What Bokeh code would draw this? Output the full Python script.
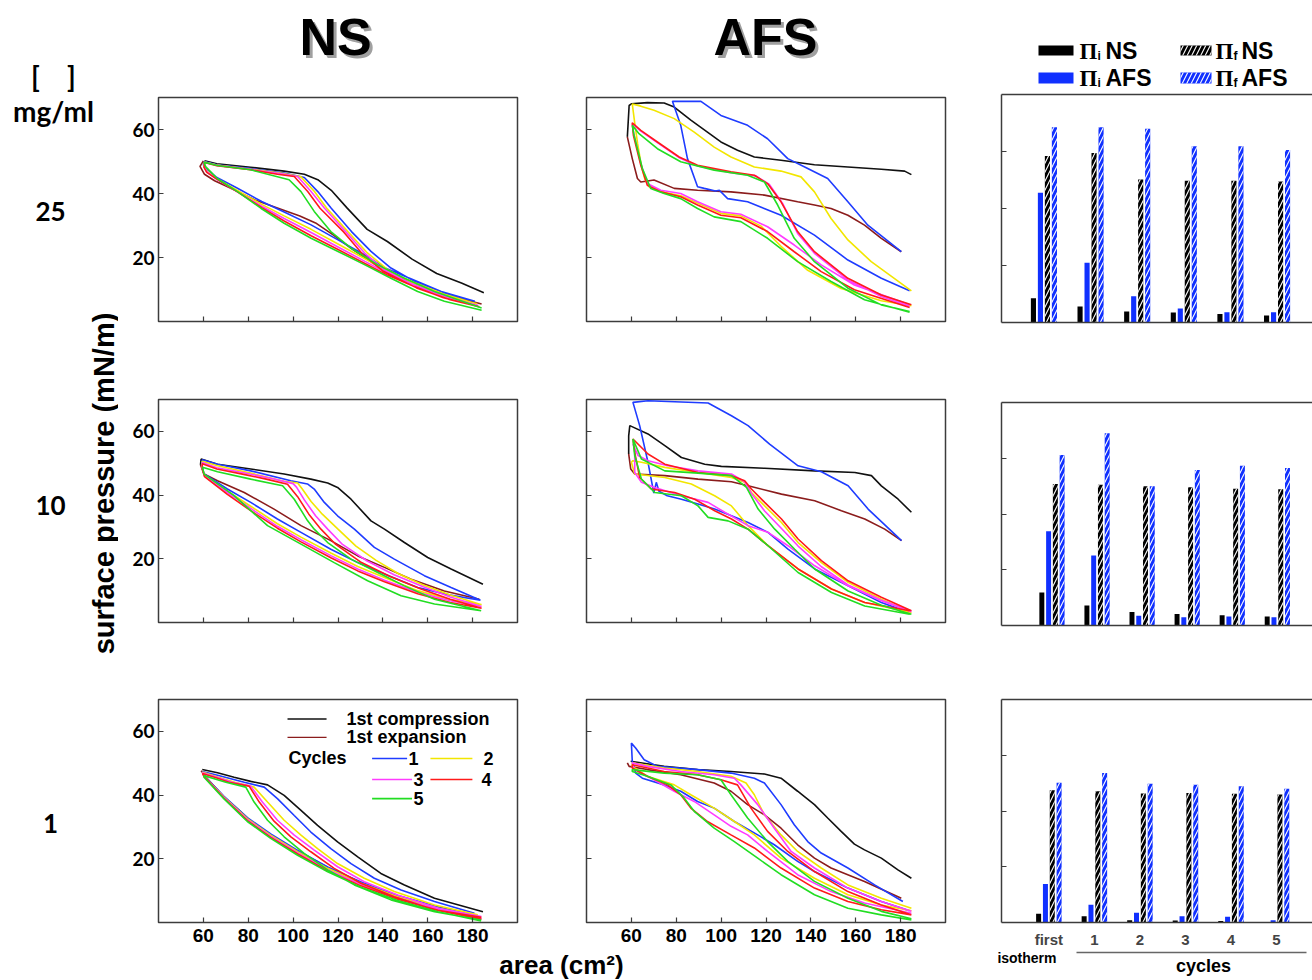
import math
from bokeh.plotting import figure
from bokeh.layouts import row, column
from bokeh.models import Range1d, LinearAxis, FixedTicker, ColumnDataSource, CustomLabelingPolicy
from bokeh.transform import dodge
from bokeh.core.properties import value
from bokeh.embed import file_html
from bokeh.resources import INLINE

# ---------------- data ----------------
AREA_TICKS = [60, 80, 100, 120, 140, 160, 180]
PRESSURE_TICKS = [20, 40, 60]
BAR_TICKS = [20, 40, 60]
GROUPS = [0, 1, 2, 3, 4, 5]
GROUP_LABELS = ["first isotherm", "1", "2", "3", "4", "5"]
CONCENTRATIONS = ["25", "10", "1"]
CURVE_LABELS = ["1st compression", "1st expansion", "1", "2", "3", "4", "5"]

# NS, 25 mg/ml  (area cm2, surface pressure mN/m)
NS25_COMP = [(185,9),(175,12),(164,15),(153,19.5),(142,25),(133,28.8),(124,35.5),(117,41),(111,44.3),(105,46),(96,47),(81,48.2),(66,49.3),(60.5,50.2)]
NS25_EXP = [(60,50.2),(58.5,48.5),(60.5,46),(65,44),(72,41.7),(83,38),(93,35.5),(103,33),(110,30.8),(118,27),(126,22.8),(135,18.5),(148,13.5),(163,9.3),(184,5.5)]
NS25_C1 = [(181,6.3),(170,8.3),(155.5,12),(143.6,16.7),(134.7,21.9),(126,28.1),(117,35.4),(111,40.6),(105,45),(96,46.4),(81,47.8),(66,49),(60.5,50),(60,49),(61,47.9),(66,45),(75,41.7),(86,37.5),(96,34.2),(108,30.2),(120,25.5),(132,20.8),(141,16.7),(153,13.2),(166,9.4),(181,6.3)]
NS25_C2 = [(182,5.5),(170,7.6),(155,11.3),(142,16.3),(133,21.5),(124.5,28),(115,35.4),(109.5,40.6),(103.5,45.2),(95,46.3),(81,47.6),(66,48.9),(60.5,49.8),(60.2,48.5),(61.5,47),(66,44.6),(75,41),(86,36.6),(96,33),(108,28.8),(120,24.2),(132,19.6),(142,15.8),(154,12.2),(167,8.6),(182,5.5)]
NS25_C3 = [(182.5,5),(170,7.2),(155,10.9),(141,16),(132,21.3),(123.5,28),(114,35.4),(108,40.6),(102,45.3),(94,46.2),(81,47.5),(66,48.8),(60.5,49.8),(60.3,48.3),(61.5,46.8),(66,44.4),(75,40.6),(86,36),(96,32.2),(108,27.8),(120,23.3),(132,18.8),(142,15.1),(154,11.5),(167,8),(182.5,5)]
NS25_C4 = [(183,4.6),(170,6.8),(155,10.5),(140,15.8),(131,21),(122.5,28),(112,35.4),(106.5,40.6),(100.5,45.3),(93,46),(81,47.4),(66,48.7),(60.5,49.7),(60.3,48.2),(61.5,46.6),(66,44.5),(75,40.6),(86,35.6),(96,31.4),(108,26.8),(120,22.5),(132,18.1),(142,14.5),(154,10.9),(167,7.4),(183,4.6)]
NS25_C5 = [(184,4.2),(163,9.4),(149.6,13.5),(137.7,17.7),(125.8,22.9),(116.8,28.1),(109.4,34.4),(103.5,40.6),(98.2,44.3),(81,47.4),(66.3,48.75),(60.3,49.8),(61,48.4),(66.3,44.6),(75.2,40.6),(85.6,35.4),(96,30.7),(108,26),(120,21.9),(132,17.7),(143.6,13.5),(155.5,9.4),(167.4,6.3),(184,3.5)]

# NS, 10 mg/ml
NS10_COMP = [(184.6,12),(170.4,16.8),(160,20.4),(149.6,25.1),(140.7,29.3),(134.7,31.9),(125.8,38.7),(119.8,42.4),(115.4,43.8),(107.9,45),(96,46.6),(81.1,48.2),(66.3,49.7),(59,51.3),(58.7,49.5)]
NS10_EXP = [(58.7,49.5),(60.3,46.6),(66.3,44.5),(78.2,40.8),(91.5,35.6),(103.5,30.4),(116.8,25.7),(128.8,20.9),(140.7,17.3),(152.6,13.6),(167.4,9.9),(183,7.3)]
NS10_C1 = [(183.5,7),(170.4,11),(158.5,14.7),(145.1,19.9),(136.2,23.6),(127.3,29.3),(119.8,33.5),(113.9,37.7),(109.4,41.9),(106.4,43.5),(99,44.5),(81.1,47.6),(66.3,49.7),(59.6,51.1),(59.3,49.2),(60.3,46.6),(70.7,41.9),(81.1,37.7),(93,32.5),(103.5,28.3),(116.8,23),(128.8,18.8),(140.7,15.2),(155.5,11),(170,8.6),(183.5,7)]
NS10_C2 = [(184,5.6),(170,8.6),(158,11.8),(147,15.3),(137,19.5),(128,24),(120,29.3),(113,34),(108,38),(104,42),(102,43.8),(96,44.3),(81,46.9),(66.3,49.2),(59.5,50.6),(59.3,48.8),(60.5,46.3),(70.7,41.2),(81.1,36.5),(93,31),(103.5,26.8),(116.8,21.8),(128.8,17.6),(140.7,14.1),(155.5,10),(170,7.2),(184,5.6)]
NS10_C3 = [(184,5),(170,8),(158,11.2),(145,15),(133,19.3),(122,24.5),(115.4,29.3),(110,33.5),(105,38.5),(101.5,42.5),(100,43.6),(90,45.3),(78,47),(66,48.6),(59.5,50.2),(59.5,48.5),(60.5,46),(70.7,40.8),(81.1,35.8),(93,30.2),(103.5,26),(116.8,21),(128.8,16.8),(140.7,13.3),(155.5,9.5),(170,6.8),(184,5)]
NS10_C4 = [(184,4.5),(170,7.3),(157,10.5),(143,14.5),(130,19),(119,24.5),(112.4,29.3),(107,34),(102,39.5),(97.5,43.4),(88,45),(78,46.5),(66,48.2),(59.5,49.8),(59.5,48.2),(60.5,45.8),(70.7,40.2),(81.1,35.1),(93,29.6),(103.5,25.3),(116.8,20.3),(128.8,16.2),(140.7,12.8),(155.5,9),(170,6.3),(184,4.5)]
NS10_C5 = [(183.8,3.7),(163,7.3),(149.6,11.5),(137.7,15.7),(125.8,19.9),(115.4,25.1),(109.4,29.3),(106.4,32),(100.5,38.7),(95.3,42.9),(81.1,45),(66.3,47.3),(59.6,48.7),(60.3,46.6),(73.7,39.8),(88.6,30.4),(103.5,24.6),(118.3,18.8),(133.2,13.1),(148.1,8.4),(163,5.8),(183.8,3.7)]

# NS, 1 mg/ml
NS1_COMP = [(184.6,3.4),(163,7.6),(149.6,11.8),(139.1,15.4),(128.8,20.6),(119.8,25.3),(110.9,30.5),(103.5,35.2),(96,39.9),(88.6,43.2),(81.1,44.3),(73.7,45.6),(66.3,47),(59.5,48)]
NS1_EXP = [(59,47.6),(61.8,45.1),(69.2,39.4),(76.7,34.7),(84.1,29.8),(93,25.6),(103.5,22),(115.4,17.3),(128.8,13),(143.6,8.8),(160,4.7),(183.8,1)]
NS1_C1 = [(180.8,2.9),(163,6.6),(148.1,10.2),(136.2,13.9),(125.8,18.5),(116.8,23.2),(107.9,28.4),(100.5,33.6),(93,38.9),(87.1,42.5),(78.2,44),(66.3,46.2),(59.6,47.4),(60.3,46.1),(69.2,39.6),(79.6,32.9),(90,27.8),(102,22.6),(115.4,17.4),(130.2,12.7),(146.6,8.5),(164.6,4.9),(180.8,2.2)]
NS1_C2 = [(182.3,2.4),(163,5.5),(145.1,9.7),(131.7,13.9),(119.8,18.5),(110.9,23.2),(103.5,27.4),(96,32.1),(88.6,37.8),(82.6,42.5),(74,44),(66.3,45.7),(59.6,47.2),(60.3,46),(69.2,39.4),(79.6,32.6),(90,27.4),(102,22.2),(115.4,17),(130.2,12.3),(146.6,8.1),(164.6,4.5),(182.3,1.8)]
NS1_C3 = [(183.9,1.9),(164.6,4.5),(146.6,8.6),(131.7,12.8),(119.8,17.5),(109.4,22.7),(100.5,27.4),(93,32.1),(86.3,37.8),(81.1,42.8),(73,44),(66.3,45.5),(59.6,47),(60.3,45.9),(69.2,39.2),(79.6,32.3),(90,27),(102,21.8),(115.4,16.6),(130.2,11.9),(146.6,7.7),(164.6,4.1),(183.9,1.3)]
NS1_C4 = [(183.9,1.6),(163,4),(145.1,8.1),(130.2,12.3),(118.3,17),(107.9,22.2),(99,26.9),(91.5,31.8),(84.9,37.8),(80.4,42.8),(72,43.9),(66.3,45.3),(59.6,46.8),(60.3,45.8),(69.2,39),(79.6,32),(90,26.7),(102,21.5),(115.4,16.2),(130.2,11.5),(146.6,7.3),(164.6,3.8),(183.9,1)]
NS1_C5 = [(183.8,0.8),(163,3.4),(143.6,7.1),(127.3,11.8),(115.4,16.5),(104.9,21.7),(96,26.9),(88.6,32.1),(82.6,37.8),(78.9,42.5),(70,44),(66.3,44.8),(60.3,46.1),(60.3,45.6),(69.2,38.8),(79.6,31.7),(90,26.4),(102,21.1),(115.4,15.9),(130.2,11.1),(146.6,6.9),(164.6,3.4),(183.8,0.5)]

# AFS, 25 mg/ml
AFS25_COMP = [(184.8,45.9),(181.8,47),(171.4,47.6),(156.5,48.3),(141.6,49),(126.7,50.4),(114.8,51.4),(107.3,53.5),(99.9,56.1),(93.9,59.2),(86.5,62.9),(79.1,67),(74.6,68.3),(67.1,68.4),(60,68),(59,67.5),(58.5,61.3),(58.2,57.7)]
AFS25_EXP = [(58.2,57.7),(60.4,50.9),(62.7,44.7),(64.2,43.6),(70.1,44.2),(79.1,41.6),(89.5,41),(104.4,40.5),(119.3,39.5),(134.1,37.4),(141.6,36.4),(149,35.3),(156.5,33.2),(163.9,30.1),(171.4,26),(180.3,21.8)]
AFS25_C1 = [(184,9.6),(171.4,13.5),(156.5,19.2),(141.6,27),(126.7,33.2),(111.8,37.4),(102.9,38.4),(99.2,41),(97.5,40.8),(92.5,41.6),(89.5,42.1),(85,50.9),(82,61.3),(78.3,68.8),(91,68.8),(99.9,64.4),(111.8,61.3),(120.7,57.1),(129.7,50.9),(138.6,47.8),(147.5,44.7),(156.5,37.4),(165.4,30.1),(180.3,21.8)]
AFS25_C2 = [(184.8,9.6),(166.9,18.7),(156.5,25.5),(149,32.2),(141.6,40.5),(135.6,45.2),(126.7,47),(114.8,48.3),(104.4,51.4),(96.9,54.5),(88,59.2),(79.1,63.4),(70.1,66),(64.2,67.3),(60.4,68),(61.5,62),(62.8,55.5),(64.5,48.5),(66,44.5),(67.9,42.1),(75,40.3),(82,39.3),(89.5,37),(99.9,33.8),(108.8,33),(117.8,29.8),(126.7,23.5),(138.6,16),(153.5,10.3),(171.4,6.5),(184.8,4.9)]
AFS25_C3 = [(184,4.7),(171.4,7.8),(156.5,13),(141.6,21.3),(134.1,27.5),(127.4,36.9),(121.5,42.8),(115.5,45.5),(104.4,46.5),(89.5,48.6),(81.3,51.2),(71.6,55.9),(64.2,59.5),(60.4,61.8),(61.2,58.2),(64.2,49.4),(67.1,43.1),(73.1,41),(82,40),(89.5,37.4),(99.9,34.3),(108.8,33.5),(120.7,29.6),(132.6,23.9),(144.6,17.7),(159.4,11.4),(184,5.2)]
AFS25_C4 = [(184.8,5.2),(171.4,8.3),(156.5,13.5),(141.6,21.8),(134.1,28.1),(126.7,37.4),(120.7,43.1),(114.8,45.7),(104.4,46.8),(89.5,48.8),(81.3,51.4),(71.6,56.1),(64.2,59.7),(60.4,62.1),(60.9,58.2),(64.2,48.8),(67.1,42.6),(73.1,40.5),(82,39),(89.5,36.4),(99.9,33.2),(108.8,32.4),(120.7,28.1),(132.6,21.8),(144.6,15.6),(159.4,9.9),(184,4.4)]
AFS25_C5 = [(184,3.1),(171.4,5.2),(156.5,10.4),(141.6,18.7),(132.6,26),(125.2,36.4),(119.3,43.6),(111.8,45.7),(96.9,47.3),(82,49.9),(71.6,54),(63.4,58.7),(60.4,61.3),(61.2,58.2),(64.9,47.8),(68.6,41.6),(74.6,40),(82,38.4),(89.5,35.3),(96.9,32.7),(108.8,31.2),(120.7,26),(134.1,18.7),(149,12.5),(163.9,6.8),(184,2.9)]

# AFS, 10 mg/ml
AFS10_COMP = [(184.8,34.6),(178.9,38.7),(171.4,42.9),(167,46.1),(159.6,47.1),(141.7,47.6),(119.4,48.4),(100.1,49),(92.7,49.7),(82.3,51.8),(74.9,55.5),(67.4,59.2),(59.3,61.8),(58.8,58.6),(58.8,52.9)]
AFS10_EXP = [(58.8,52.9),(59.7,48.2),(61.5,46.6),(74.9,46.1),(89.7,45),(104.6,44.2),(112,42.9),(126.9,40.3),(141.7,38.2),(153.6,35.1),(164,32.5),(172.9,29.3),(180.4,25.7)]
AFS10_C1 = [(184,3.1),(171.4,6.3),(156.6,11.5),(141.7,16.8),(129.8,23),(120.9,28.3),(112,31.4),(104.6,33.5),(97.1,35.6),(89.7,37.2),(82.3,38.7),(76,39.8),(72.3,41.2),(71.1,44),(70,40.6),(67.4,50.3),(63.7,61.8),(60.7,69.1),(67.4,69.6),(94.2,68.9),(104.6,64.9),(112,61.8),(121.6,56),(134.3,49.2),(144.7,47.3),(156.6,42.9),(165.5,35.6),(180.4,25.7)]
AFS10_C2 = [(184.8,3.1),(171.4,7.3),(156.6,12.6),(144.7,18.8),(134.3,25.1),(126.9,31.4),(119.4,36.6),(113.5,40.8),(110.5,44),(104.6,45.5),(89.7,47.1),(74.9,48.7),(64.5,50.3),(60.7,50.8),(60,50.3),(61.5,46.6),(74.9,45.5),(86.7,43.5),(97.1,39.8),(104.6,36.6),(112,30.4),(120.9,24.1),(134.3,16.8),(149.2,10.5),(164,6.3),(184.8,3.1)]
AFS10_C3 = [(184.8,3.4),(171.4,6.8),(156.6,11.5),(141.7,17.8),(129.8,24.1),(120.9,28.3),(112,30.4),(101.6,34.6),(94.2,37.7),(82.3,39.8),(70.4,42.4),(64.5,44),(61.5,47.1),(61.5,54.5),(60.7,56),(63,52.4),(67.4,50.8),(76.3,49.2),(89.7,47.6),(104.6,46.6),(110.5,44.2),(113.5,40.5),(119.4,35),(126.9,29.5),(134.3,24),(144.7,17.5),(156.6,11.8),(171.4,7),(184.8,3.6)]
AFS10_C4 = [(184.8,3.7),(171.4,7.9),(156.6,13.1),(144.7,19.4),(134.3,26.2),(126.9,32.5),(119.4,37.7),(113.5,41.9),(110.5,44.5),(104.6,46.1),(89.7,47.1),(74.9,49.7),(67.4,52.9),(60.7,57.6),(61.5,53.4),(63.7,45.5),(68.9,41.9),(79.3,40.8),(88.2,38.7),(97.1,35.1),(104.6,32.5),(112,29.3),(120.9,24.1),(134.3,16.8),(149.2,10.5),(164,6.3),(184,3.7)]
AFS10_C5 = [(184.8,2.6),(171.4,5.4),(156.6,9.9),(141.7,16.8),(132.8,23),(123.9,29.3),(116.5,35.6),(111.3,42.4),(104.6,46.1),(89.7,46.9),(74.9,47.6),(64.5,51.3),(60.7,57.6),(61.5,52.4),(64.5,45),(70.4,40.8),(82.3,39.8),(89.7,36.6),(94.2,33),(103.1,31.9),(112,29.3),(120.9,24.1),(134.3,15.7),(149.2,9.4),(164,5.2),(184,2.6)]

# AFS, 1 mg/ml
AFS1_COMP = [(184.8,13.9),(178.8,16.5),(171.4,20.2),(163.9,22.8),(159.4,24.6),(153.5,28.6),(147.5,32.8),(141.6,37),(134.1,41.2),(126.7,45.3),(119.3,46.6),(104.4,47.4),(89.5,48),(74.6,49),(59.7,50.6)]
AFS1_EXP = [(58.2,50.1),(59,49),(67.1,48),(82,46.4),(96.9,43.8),(104.4,41.2),(111.8,37),(119.3,33.8),(126.7,29.6),(134.1,24.4),(141.6,20.2),(149,17.1),(163.9,12.9),(180.3,7.6)]
AFS1_C1 = [(184,3.7),(171.4,6.6),(156.5,10.8),(141.6,16),(134.1,19.2),(123.7,24.4),(116.3,27.5),(105.9,31.7),(96.9,35.9),(89.5,38),(82,41.2),(74.6,43.2),(64.9,45.3),(61.9,46.9),(60.4,50.6),(60,56.3),(61.9,54.8),(65.7,51.1),(71.6,49),(89.5,48),(104.4,46.9),(114.8,45.3),(119.3,43.8),(126.7,37),(132.6,30.7),(138.6,25.4),(144.6,21.8),(156.5,17.1),(168.4,11.8),(181,6.6)]
AFS1_C2 = [(184.8,4.5),(171.4,7.6),(156.5,11.8),(144.6,17.1),(134.1,22.3),(126.7,27.5),(119.3,33.8),(114.8,40.1),(111.1,43.8),(104.4,45.9),(89.5,47.4),(74.6,48.5),(60.4,50.1),(60.4,49),(67.1,45.9),(79.1,43.2),(86.5,40.1),(96.9,35.9),(105.9,31.7),(114.8,27.5),(126.7,20.2),(141.6,13.9),(156.5,8.7),(171.4,5.5),(184.8,3.7)]
AFS1_C3 = [(184.8,3.5),(171.4,6.6),(156.5,10.8),(141.6,17.1),(131.2,22.3),(123.7,29.6),(116.3,37),(108.8,43.2),(105.9,45.3),(96.9,46.4),(82,47.4),(67.1,49),(60.4,50.1),(61.2,48),(70.1,44.8),(79.1,41.2),(88,38),(96.9,33.8),(104.4,30.2),(111.8,27.5),(120.7,22.3),(134.1,15),(149,9.7),(163.9,6.1),(184.8,2.9)]
AFS1_C4 = [(184.8,2.4),(171.4,5.5),(156.5,9.7),(141.6,16),(129.7,22.3),(120.7,28.6),(113.3,35.9),(107.3,43.2),(99.9,44.8),(89.5,46.4),(74.6,47.4),(60.4,49.5),(60.4,48.5),(67.1,45.9),(76.1,43.2),(82,40.1),(86.5,35.9),(93.9,31.7),(104.4,27.5),(114.8,23.4),(126.7,17.1),(141.6,10.8),(156.5,6.6),(171.4,4),(184.8,2.4)]
AFS1_C5 = [(184.8,1.2),(171.4,3.5),(156.5,7.6),(141.6,12.9),(129.7,19.2),(120.7,25.4),(111.8,32.8),(104.4,40.1),(99.9,44.8),(89.5,46.4),(74.6,46.9),(60.4,48),(60.4,47.4),(67.1,45.9),(77.6,43.2),(83.5,39.1),(88,34.9),(96.9,29.6),(105.9,25.4),(116.3,20.2),(126.7,15),(141.6,8.7),(156.5,4.5),(171.4,2.4),(184.8,0.8)]

# bar values (mN/m): initial (Pi_i) and final (Pi_f) surface pressures
PI_I_NS_25 = [8.5, 5.6, 3.9, 3.5, 3.0, 2.5]
PI_I_AFS_25 = [45.5, 21.0, 9.2, 4.9, 3.6, 3.6]
PI_F_NS_25 = [58.4, 59.5, 50.2, 49.7, 49.7, 49.5]
PI_F_AFS_25 = [68.5, 68.5, 68.0, 61.8, 61.8, 60.5]

PI_I_NS_10 = [11.8, 7.2, 4.8, 4.1, 3.7, 3.2]
PI_I_AFS_10 = [33.8, 25.1, 3.5, 3.0, 3.2, 3.0]
PI_F_NS_10 = [50.8, 50.5, 50.0, 49.6, 49.1, 48.9]
PI_F_AFS_10 = [61.2, 69.0, 50.0, 55.8, 57.3, 56.5]

PI_I_NS_1 = [3.1, 2.2, 0.8, 0.7, 0.5, 0.2]
PI_I_AFS_1 = [13.8, 6.4, 3.5, 2.2, 2.1, 0.8]
PI_F_NS_1 = [47.4, 47.1, 46.3, 46.5, 46.2, 45.9]
PI_F_AFS_1 = [50.1, 53.6, 49.8, 49.4, 48.9, 48.0]

# ---------------- styles ----------------
CURVE_COLORS = ["#111111", "#8b1c1c", "#1f3cff", "#f2e600", "#ff3cff", "#ff1a1a", "#22dd22"]
BAR_BLACK = "#000000"
BAR_BLUE = "#1030ff"
FRAME = "#3c3c3c"
SANS = "Liberation Sans"
LATO = "Lato"
NBSP = "\u00a0"
HATCH = dict(hatch_pattern="/", hatch_color="white", hatch_scale=9, hatch_weight=1.1)


def hide_labels(ax):
    ax.major_label_policy = CustomLabelingPolicy(
        code="for (const i of indices) { indices.unset(i) }\nreturn indices")


def put(p, x, y, s, size, font=SANS, style="bold", color="black", align="center",
        baseline="middle", angle=0.0):
    p.text(x=[x], y=[y], text=[s], text_font=value(font), text_font_size=value(f"{size}px"),
           text_font_style=style, text_color=color, text_align=align,
           text_baseline=baseline, angle=angle)


def strip(width, height, x0, y0):
    return figure(width=width, height=height, x_range=Range1d(x0, x0 + width),
                  y_range=Range1d(y0 + height, y0), x_axis_type=None, y_axis_type=None,
                  output_backend="svg", toolbar_location=None, title=None,
                  min_border=0, outline_line_color=None)


def line_panel(curves, width, height, bt, bb, bl, br, xlabels, ylabels):
    p = figure(width=width, height=height, x_range=Range1d(40, 200), y_range=Range1d(0, 70),
               output_backend="svg", toolbar_location=None, title=None,
               min_border_left=bl, min_border_right=br, min_border_top=bt, min_border_bottom=bb)
    p.grid.visible = False
    p.outline_line_color = FRAME
    p.outline_line_width = 1.5
    p.xaxis.ticker = FixedTicker(ticks=AREA_TICKS)
    p.yaxis.ticker = FixedTicker(ticks=PRESSURE_TICKS)
    for ax in (p.xaxis[0], p.yaxis[0]):
        ax.axis_line_color = None
        ax.major_tick_in = 5
        ax.major_tick_out = 0
        ax.major_tick_line_color = FRAME
        ax.major_tick_line_width = 1.2
        ax.minor_tick_line_color = None
    if xlabels:
        p.xaxis.major_label_text_font = SANS
        p.xaxis.major_label_text_font_style = "bold"
        p.xaxis.major_label_text_font_size = "19px"
        p.xaxis.major_label_text_color = "black"
        p.xaxis.major_label_standoff = 6
    else:
        hide_labels(p.xaxis[0])
    if ylabels:
        p.yaxis.major_label_text_font = LATO
        p.yaxis.major_label_text_font_style = "bold"
        p.yaxis.major_label_text_font_size = "19px"
        p.yaxis.major_label_text_color = "black"
        p.yaxis.major_label_standoff = 4
    else:
        hide_labels(p.yaxis[0])
    for pts, color in zip(curves, CURVE_COLORS):
        p.line([a for a, _ in pts], [b for _, b in pts], line_color=color, line_width=1.6)
    return p


def bar_panel(series, xr, width, height, bt, bb, bl, bottom_labels):
    p = figure(width=width, height=height, x_range=Range1d(*xr), y_range=Range1d(0, 80),
               output_backend="svg", toolbar_location=None, title=None,
               min_border_left=bl, min_border_right=0, min_border_top=bt, min_border_bottom=bb)
    p.grid.visible = False
    p.outline_line_color = None
    src = ColumnDataSource(dict(g=GROUPS, a=series[0], b=series[1], c=series[2], d=series[3]))
    specs = [("a", -0.225, BAR_BLACK, False), ("b", -0.075, BAR_BLUE, False),
             ("c", 0.075, BAR_BLACK, True), ("d", 0.225, BAR_BLUE, True)]
    for col, off, color, hatched in specs:
        kw = HATCH if hatched else {}
        p.vbar(x=dodge("g", off), top=col, bottom=0, width=0.11, source=src,
               fill_color=color, line_color=None, **kw)
    yax = p.yaxis[0]
    yax.ticker = FixedTicker(ticks=BAR_TICKS)
    yax.major_tick_in = 5
    yax.major_tick_out = 0
    yax.major_tick_line_color = FRAME
    yax.minor_tick_line_color = None
    yax.axis_line_color = FRAME
    yax.axis_line_width = 1.5
    hide_labels(yax)
    xax = p.xaxis[0]
    xax.ticker = FixedTicker(ticks=GROUPS)
    xax.major_tick_line_color = None
    xax.minor_tick_line_color = None
    xax.axis_line_color = FRAME
    xax.axis_line_width = 1.5
    top = LinearAxis(ticker=FixedTicker(ticks=[]), axis_line_color=FRAME, axis_line_width=1.5,
                     major_tick_line_color=None, minor_tick_line_color=None,
                     major_label_standoff=0)
    hide_labels(top)
    p.add_layout(top, "above")
    if bottom_labels:
        xax.major_label_overrides = {g: lab.split()[0] for g, lab in zip(GROUPS, GROUP_LABELS)}
        xax.major_label_text_font = SANS
        xax.major_label_text_font_style = "bold"
        xax.major_label_text_font_size = "15px"
        xax.major_label_standoff = 2
    else:
        hide_labels(xax)
    return p


# ---------------- panels (heights chosen so the frames sit as in the reference) ----------------
ns25 = line_panel([NS25_COMP, NS25_EXP, NS25_C1, NS25_C2, NS25_C3, NS25_C4, NS25_C5], 427, 268, 5, 39, 40, 28, False, True)
ns10 = line_panel([NS10_COMP, NS10_EXP, NS10_C1, NS10_C2, NS10_C3, NS10_C4, NS10_C5], 427, 297, 39, 35, 40, 28, False, True)
ns1 = line_panel([NS1_COMP, NS1_EXP, NS1_C1, NS1_C2, NS1_C3, NS1_C4, NS1_C5], 427, 293, 42, 28, 40, 28, True, True)
afs25 = line_panel([AFS25_COMP, AFS25_EXP, AFS25_C1, AFS25_C2, AFS25_C3, AFS25_C4, AFS25_C5], 415, 268, 5, 39, 41, 15, False, False)
afs10 = line_panel([AFS10_COMP, AFS10_EXP, AFS10_C1, AFS10_C2, AFS10_C3, AFS10_C4, AFS10_C5], 415, 297, 39, 35, 41, 15, False, False)
afs1 = line_panel([AFS1_COMP, AFS1_EXP, AFS1_C1, AFS1_C2, AFS1_C3, AFS1_C4, AFS1_C5], 415, 293, 42, 28, 41, 15, True, False)

# legend of the curves, inside the NS 1 mg/ml panel
leg_rows = [(97.5, 114.9, 63.9), (97.5, 114.9, 58.1)]
for (x0, x1, y), color, lab in zip(leg_rows, CURVE_COLORS[:2], CURVE_LABELS[:2]):
    ns1.segment(x0=[x0], y0=[y], x1=[x1], y1=[y], line_color=color, line_width=1.4)
    put(ns1, 123.8, y, lab, 18, align="left")
put(ns1, 97.9, 51.5, "Cycles", 18, align="left")
cyc_pos = [(135.2, 150.8, 51.5, 151.4), (161.2, 179.9, 51.5, 184.8), (135.2, 153.0, 44.9, 153.6),
           (161.2, 179.9, 44.9, 183.9), (135.2, 153.0, 38.9, 153.6)]
for (x0, x1, y, xt), color, lab in zip(cyc_pos, CURVE_COLORS[2:], CURVE_LABELS[2:]):
    ns1.segment(x0=[x0], y0=[y], x1=[x1], y1=[y], line_color=color, line_width=1.6)
    put(ns1, xt, y, lab, 18, align="left")

bar25 = bar_panel([PI_I_NS_25, PI_I_AFS_25, PI_F_NS_25, PI_F_AFS_25], (-0.91, 5.76), 352, 268, 2, 38, 41, False)
bar10 = bar_panel([PI_I_NS_10, PI_I_AFS_10, PI_F_NS_10, PI_F_AFS_10], (-1.12, 5.78), 352, 300, 42, 35, 41, False)
bar1 = bar_panel([PI_I_NS_1, PI_I_AFS_1, PI_F_NS_1, PI_F_AFS_1], (-1.04, 5.79), 352, 290, 39, 21, 41, True)

# ---------------- strips with titles / labels (page pixel coordinates) ----------------
left = strip(118, 980, 0, 0)
put(left, 53, 75, "[" + NBSP * 4 + "]", 28, font=LATO)
put(left, 53, 110, "mg/ml", 28, font=LATO)
for conc, yy in zip(CONCENTRATIONS, [211, 505, 823]):
    put(left, 50, yy, conc, 26, font=LATO)
put(left, 103, 483, "surface pressure (mN/m)", 29, angle=math.pi / 2)

top = strip(1194, 92, 118, 0)
for txt, xc in [("NS", 335), ("AFS", 765)]:
    put(top, xc + 3, 39, txt, 52, color="#a0a0a0")
    put(top, xc, 36, txt, 52)
legend_specs = [
    (1038, 1073, 45, 55, BAR_BLACK, False, 1079, "i", "NS", 50),
    (1038, 1073, 72, 83, BAR_BLUE, False, 1079, "i", "AFS", 77),
    (1180, 1211, 45, 55, BAR_BLACK, True, 1215, "f", "NS", 50),
    (1180, 1211, 72, 83, BAR_BLUE, True, 1215, "f", "AFS", 77),
]
for l, r, t, b, color, hatched, xt, sub, name, yc in legend_specs:
    kw = HATCH if hatched else {}
    top.quad(left=[l], right=[r], top=[t], bottom=[b], fill_color=color, line_color=None, **kw)
    put(top, xt, yc + 1, "Π", 23, font="Liberation Serif", align="left")
    put(top, xt + 18, yc + 5, sub, 12, align="left")
    put(top, xt + 26, yc, name, 23, align="left")

bottom = strip(1194, 30, 118, 950)
put(bottom, 561, 964, "area (cm²)", 26)
iso = GROUP_LABELS[0].split()[1]
put(bottom, 1056, 957, iso, 14, align="right")
bottom.segment(x0=[1076], y0=[952], x1=[1306], y1=[952], line_color="#666666", line_width=1.5)
put(bottom, 1203, 965, "cycles", 18)

# ---------------- layout ----------------
main = row(column(ns25, ns10, ns1), column(afs25, afs10, afs1), column(bar25, bar10, bar1))
layout = row(left, column(top, main, bottom))

open("out.html", "w").write(file_html(layout, INLINE))
